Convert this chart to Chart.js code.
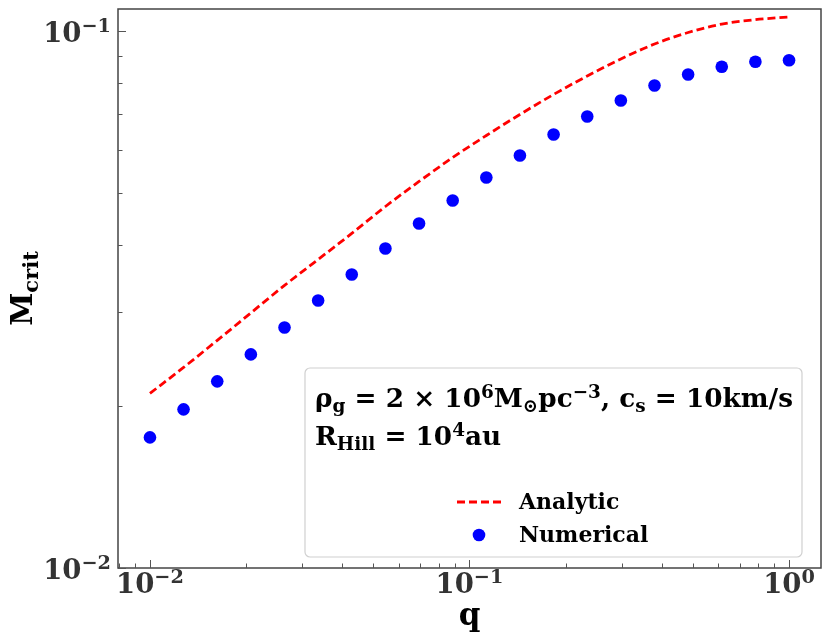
<!DOCTYPE html>
<html>
<head>
<meta charset="utf-8">
<script src="https://cdn.jsdelivr.net/npm/chart.js@4.4.1/dist/chart.umd.min.js"></script>
<style>
  html, body { margin: 0; padding: 0; background: #fff; }
  #wrap { width: 831px; height: 643px; }
</style>
</head>
<body>
<div id="wrap"><canvas id="chart" width="831" height="643"></canvas></div>
<script>
// valores (q em escala log)
const qValues = [0.01, 0.01274, 0.01624, 0.02069, 0.02637, 0.0336, 0.04281, 0.05456, 0.06952, 0.08859,
  0.1129, 0.1438, 0.1833, 0.2336, 0.2976, 0.3793, 0.4833, 0.6158, 0.7848, 1.0];
const numerical = [0.01751, 0.01975, 0.02227, 0.0250, 0.02806, 0.0315, 0.03522, 0.03938, 0.04384, 0.04838,
  0.05339, 0.05867, 0.06421, 0.06937, 0.0743, 0.07924, 0.08306, 0.08584, 0.0877, 0.0883];
const analytic = [0.02115, 0.02364, 0.02655, 0.02987, 0.03361, 0.03757, 0.0420, 0.04715, 0.05249, 0.05817,
  0.06393, 0.06997, 0.07624, 0.08253, 0.08877, 0.09466, 0.09944, 0.1031, 0.1051, 0.1063];
const xTickPowers = [-2, -1, 0];
const yTickPowers = [-2, -1];
const seriesLabels = ['Analytic', 'Numerical'];

const FONT = '"DejaVu Serif", "Liberation Serif", serif';
const MINUS = '\u2212';

// desenha texto com sub/sobrescritos
function richWidth(ctx, parts, size) {
  let w = 0;
  parts.forEach(([t, k]) => {
    const s = k === 'n' ? size : size * 0.7;
    ctx.font = `bold ${s}px ${FONT}`;
    w += ctx.measureText(t).width;
  });
  return w;
}

function drawRich(ctx, parts, x, y, size, align) {
  const w = richWidth(ctx, parts, size);
  let cx = align === 'center' ? x - w / 2 : align === 'right' ? x - w : x;
  ctx.textAlign = 'left';
  ctx.textBaseline = 'alphabetic';
  parts.forEach(([t, k]) => {
    const s = k === 'n' ? size : size * 0.7;
    const dy = k === 'sub' ? size * 0.2 : k === 'sup' ? -size * 0.36 : 0;
    ctx.font = `bold ${s}px ${FONT}`;
    ctx.fillText(t, cx, y + dy);
    cx += ctx.measureText(t).width;
  });
}

const framePlugin = {
  id: 'frame',
  afterDraw(chart) {
    const { ctx, chartArea: a, scales: { x, y } } = chart;
    ctx.save();

    // moldura
    ctx.strokeStyle = '#444';
    ctx.lineWidth = 1.5;
    ctx.strokeRect(a.left, a.top, a.right - a.left, a.bottom - a.top);

    // ticks para dentro
    ctx.strokeStyle = '#555';
    ctx.lineWidth = 1;
    for (let d = -3; d <= 0; d++) {
      for (let k = 1; k <= 9; k++) {
        const v = k * Math.pow(10, d);
        const len = k === 1 ? 8 : 4.5;
        if (v >= x.min && v <= x.max) {
          const px = Math.round(x.getPixelForValue(v)) + 0.5;
          ctx.beginPath(); ctx.moveTo(px, a.bottom); ctx.lineTo(px, a.bottom - len); ctx.stroke();
        }
        if (v >= y.min && v <= y.max) {
          const py = Math.round(y.getPixelForValue(v)) + 0.5;
          ctx.beginPath(); ctx.moveTo(a.left, py); ctx.lineTo(a.left + len, py); ctx.stroke();
        }
      }
    }

    // rótulos dos ticks
    ctx.fillStyle = '#333';
    xTickPowers.forEach(p => {
      const px = x.getPixelForValue(Math.pow(10, p));
      drawRich(ctx, [['10', 'n'], [p < 0 ? MINUS + Math.abs(p) : String(p), 'sup']], px, 593, 27.5, 'center');
    });
    yTickPowers.forEach(p => {
      const py = y.getPixelForValue(Math.pow(10, p));
      drawRich(ctx, [['10', 'n'], [MINUS + Math.abs(p), 'sup']], 111, py + 10.8, 27.5, 'right');
    });

    // títulos dos eixos
    ctx.fillStyle = '#000';
    drawRich(ctx, [['q', 'n']], (a.left + a.right) / 2, 625, 31, 'center');
    ctx.save();
    ctx.translate(31.5, (a.top + a.bottom) / 2);
    ctx.rotate(-Math.PI / 2);
    drawRich(ctx, [['M', 'n'], ['crit', 'sub']], 0, 0, 30, 'center');
    ctx.restore();

    // caixa da legenda
    const bx = 305, by = 368, bw = 497, bh = 189, r = 5;
    ctx.beginPath();
    ctx.roundRect(bx, by, bw, bh, r);
    ctx.fillStyle = 'rgba(255,255,255,0.8)';
    ctx.fill();
    ctx.strokeStyle = '#d0d0d0';
    ctx.lineWidth = 1.2;
    ctx.stroke();

    ctx.fillStyle = '#000';
    drawRich(ctx, [['\u03c1', 'n'], ['g', 'sub'], [' = 2 \u00d7 10', 'n'], ['6', 'sup'], ['M', 'n'], ['\u2299', 'sub'],
      ['pc', 'n'], [MINUS + '3', 'sup'], [', c', 'n'], ['s', 'sub'], [' = 10km/s', 'n']], 315, 407, 26.3, 'left');
    drawRich(ctx, [['R', 'n'], ['Hill', 'sub'], [' = 10', 'n'], ['4', 'sup'], ['au', 'n']], 315, 445, 26.3, 'left');

    // entradas
    ctx.strokeStyle = 'red';
    ctx.lineWidth = 2.8;
    ctx.setLineDash([8, 4]);
    ctx.beginPath(); ctx.moveTo(457, 502); ctx.lineTo(503, 502); ctx.stroke();
    ctx.setLineDash([]);
    ctx.fillStyle = 'blue';
    ctx.beginPath(); ctx.arc(479, 535, 6.3, 0, Math.PI * 2); ctx.fill();
    ctx.fillStyle = '#000';
    drawRich(ctx, [[seriesLabels[0], 'n']], 519, 509, 22, 'left');
    drawRich(ctx, [[seriesLabels[1], 'n']], 519, 542, 22, 'left');

    ctx.restore();
  }
};

const ctx = document.getElementById('chart').getContext('2d');
new Chart(ctx, {
  type: 'scatter',
  data: {
    datasets: [{
      label: seriesLabels[0],
      data: qValues.map((q, i) => ({ x: q, y: analytic[i] })),
      showLine: true,
      borderColor: 'red',
      borderWidth: 2.8,
      borderDash: [8, 4],
      pointRadius: 0,
      cubicInterpolationMode: 'monotone'
    }, {
      label: seriesLabels[1],
      data: qValues.map((q, i) => ({ x: q, y: numerical[i] })),
      showLine: false,
      pointRadius: 6.3,
      pointBackgroundColor: 'blue',
      pointBorderColor: 'blue',
      pointBorderWidth: 0
    }]
  },
  options: {
    responsive: false,
    animation: false,
    devicePixelRatio: 1,
    layout: { padding: { top: 9, right: 10, left: 0, bottom: 0 } },
    plugins: { legend: { display: false }, tooltip: { enabled: false } },
    scales: {
      x: {
        type: 'logarithmic',
        min: 0.007943,
        max: 1.259,
        grid: { display: false },
        border: { display: false },
        ticks: { display: false },
        afterFit: s => { s.height = 75; }
      },
      y: {
        type: 'logarithmic',
        min: 0.01,
        max: 0.11,
        grid: { display: false },
        border: { display: false },
        ticks: { display: false },
        afterFit: s => { s.width = 118; }
      }
    }
  },
  plugins: [framePlugin]
});
</script>
</body>
</html>
